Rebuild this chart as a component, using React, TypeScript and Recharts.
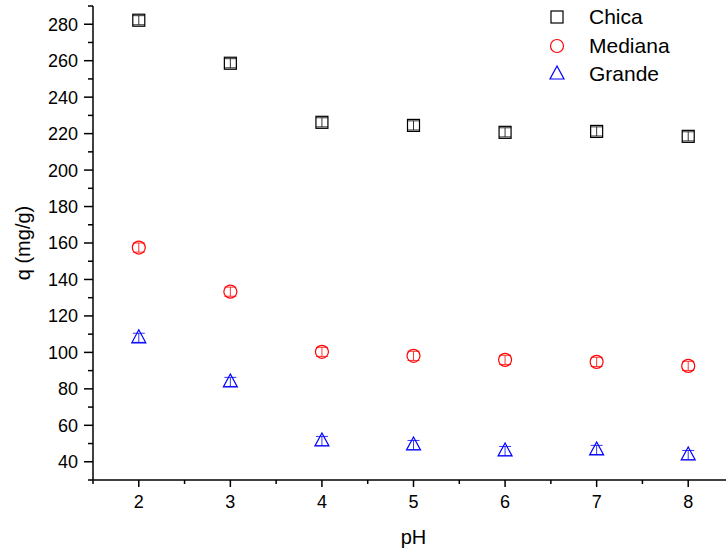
import React from 'react';
import { ScatterChart, Scatter, XAxis, YAxis, ErrorBar, Legend } from 'recharts';

// pH values and adsorption capacity q (mg/g) per particle size
const PH = [2, 3, 4, 5, 6, 7, 8];
const CHICA = [282.2, 258.6, 226.2, 224.5, 220.7, 221.2, 218.5];
const MEDIANA = [157.5, 133.3, 100.3, 98.1, 95.9, 94.8, 92.6];
const GRANDE = [108, 83.8, 51.4, 49.2, 45.9, 46.5, 43.7];
const ERR = [2.5, 2.5, 2.5, 2.5, 2.5, 2.5, 2.5];

const X_TICKS = [1.5, 2, 2.5, 3, 3.5, 4, 4.5, 5, 5.5, 6, 6.5, 7, 7.5, 8, 8.5];
const Y_TICKS = [30, 40, 50, 60, 70, 80, 90, 100, 110, 120, 130, 140, 150, 160, 170, 180, 190, 200, 210, 220, 230, 240, 250, 260, 270, 280, 290];

const FONT = "Arial, 'Liberation Sans', sans-serif";

const toPoints = (ys: number[]) => PH.map((x, i) => ({ x, y: ys[i], err: ERR[i] }));

const chica = toPoints(CHICA);
const mediana = toPoints(MEDIANA);
const grande = toPoints(GRANDE);

const SERIES = [
  { name: 'Chica', data: chica, color: '#000000', kind: 'square' },
  { name: 'Mediana', data: mediana, color: '#ff0000', kind: 'circle' },
  { name: 'Grande', data: grande, color: '#0000ff', kind: 'triangle' },
];

const Marker = ({ kind, color, cx, cy }: any) => {
  if (kind === 'square') {
    return <rect x={cx - 6} y={cy - 6} width={12} height={12} fill="none" stroke={color} strokeWidth={1.2} />;
  }
  if (kind === 'circle') {
    return <circle cx={cx} cy={cy} r={6.5} fill="none" stroke={color} strokeWidth={1.2} />;
  }
  return (
    <polygon
      points={`${cx},${cy - 8} ${cx - 7},${cy + 5} ${cx + 7},${cy + 5}`}
      fill="none"
      stroke={color}
      strokeWidth={1.2}
    />
  );
};

const YTick = ({ x, y, payload }: any) => {
  const v = payload.value;
  const major = v % 20 === 0 && v >= 40 && v <= 280;
  return (
    <g>
      <line x1={x} x2={x - (major ? 9 : 5)} y1={y} y2={y} stroke="#000" strokeWidth={1.5} />
      {major && (
        <text x={x - 15} y={y} dy="0.36em" textAnchor="end" fontSize={18} fontFamily={FONT} fill="#000">
          {v}
        </text>
      )}
    </g>
  );
};

const XTick = ({ x, y, payload }: any) => {
  const v = payload.value;
  const major = Number.isInteger(v);
  return (
    <g>
      <line x1={x} x2={x} y1={y} y2={y + (major ? 7 : 4)} stroke="#000" strokeWidth={1.5} />
      {major && (
        <text x={x} y={y + 15} dy="0.71em" textAnchor="middle" fontSize={18} fontFamily={FONT} fill="#000">
          {v}
        </text>
      )}
    </g>
  );
};

const LegendContent = ({ payload }: any) => {
  const items = [...(payload || [])].sort(
    (a: any, b: any) => SERIES.findIndex((s) => s.name === a.value) - SERIES.findIndex((s) => s.name === b.value)
  );
  return (
    <div style={{ fontFamily: FONT, fontSize: 21 }}>
      {items.map((entry: any) => {
        const s = SERIES.find((d) => d.name === entry.value);
        if (!s) return null;
        return (
          <div key={entry.value} style={{ display: 'flex', alignItems: 'center', height: 28.5 }}>
            <svg width={20} height={20} style={{ marginRight: 22 }}>
              <Marker kind={s.kind} color={s.color} cx={10} cy={10} />
            </svg>
            <span>{entry.value}</span>
          </div>
        );
      })}
    </div>
  );
};

const YLabel = ({ viewBox }: any) => {
  const cx = 23;
  const cy = viewBox.y + viewBox.height / 2;
  return (
    <text
      x={cx}
      y={cy}
      transform={`rotate(-90 ${cx} ${cy})`}
      textAnchor="middle"
      dominantBaseline="central"
      fontSize={20}
      fontFamily={FONT}
      fill="#000"
    >
      q (mg/g)
    </text>
  );
};

export default function App() {
  return (
    <div style={{ position: 'fixed', left: 0, top: 0, width: 726, height: 554, overflow: 'hidden', background: '#fff' }}>
      <ScatterChart width={740} height={554} margin={{ top: 6, right: 6, bottom: 34, left: 0 }}>
        <XAxis
          type="number"
          dataKey="x"
          domain={[1.5, 8.5]}
          ticks={X_TICKS}
          interval={0}
          height={40}
          tickLine={false}
          tickSize={0}
          tickMargin={0}
          tick={<XTick />}
          axisLine={{ stroke: '#000', strokeWidth: 1.5 }}
          label={{ value: 'pH', position: 'bottom', offset: 10, fontSize: 20, fontFamily: FONT, fill: '#000' }}
        />
        <YAxis
          type="number"
          dataKey="y"
          domain={[30, 290]}
          ticks={Y_TICKS}
          interval={0}
          width={93}
          tickLine={false}
          tickSize={0}
          tickMargin={0}
          tick={<YTick />}
          axisLine={{ stroke: '#000', strokeWidth: 1.5 }}
          label={<YLabel />}
        />
        <Legend
          verticalAlign="middle"
          align="center"
          layout="vertical"
          content={<LegendContent />}
          wrapperStyle={{ top: 3, left: 547, width: 170 }}
        />
        {SERIES.map((s) => (
          <Scatter
            key={s.name}
            name={s.name}
            data={s.data}
            fill={s.color}
            isAnimationActive={false}
            shape={(props: any) => <Marker kind={s.kind} color={s.color} cx={props.cx} cy={props.cy} />}
          >
            <ErrorBar dataKey="err" direction="y" width={6} stroke={s.color} strokeWidth={0.8} />
          </Scatter>
        ))}
      </ScatterChart>
    </div>
  );
}
